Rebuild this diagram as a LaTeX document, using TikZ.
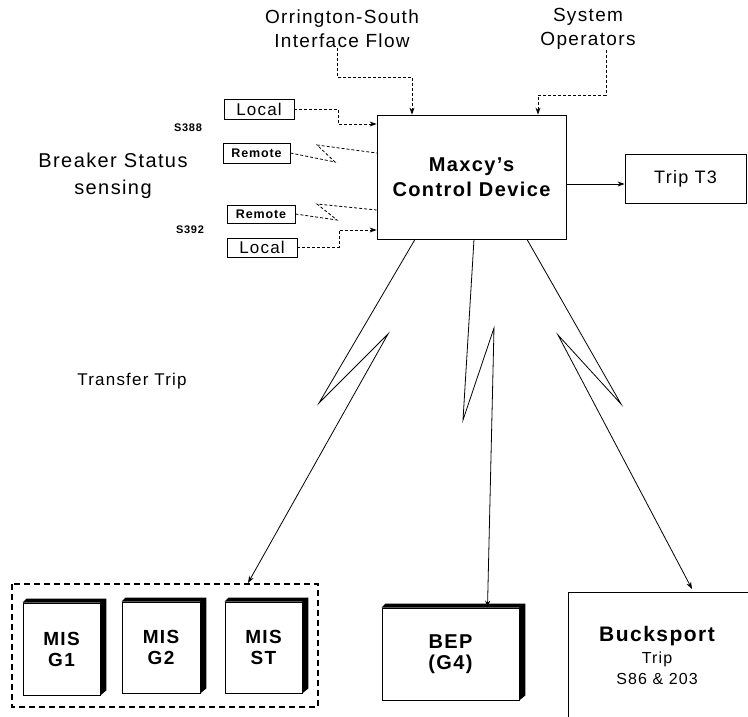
\documentclass[tikz,border=0pt]{standalone}
\usepackage{fontspec}
\setmainfont{Liberation Sans}[LetterSpace=7]
\usetikzlibrary{arrows.meta,calc}
\begin{document}
\begin{tikzpicture}[x=1pt,y=-1pt,
  ln/.style={line width=0.8pt},
  dsh/.style={line width=0.8pt,dash pattern=on 3pt off 2pt},
  arr/.style={-{Stealth[length=7pt,width=5pt]}},
  frame/.style={draw,line width=0.8pt,inner sep=0pt,align=center},
  lbl/.style={inner sep=0pt,align=center},
  solid3d/.style={draw,line width=0.8pt,fill=white,inner sep=0pt,align=center,font=\bfseries\fontsize{19}{21}\selectfont}]
\clip (0,0) rectangle (748,717);
\fill[white] (0,0) rectangle (748,717);

% top labels
\node[lbl,font=\fontsize{19}{24}\selectfont] (ors) at (342,29) {Orrington-South\\Interface Flow};
\node[lbl,font=\fontsize{19}{24}\selectfont] (sys) at (588,29) {System\\Operators};

% main device
\node[frame,minimum width=189pt,minimum height=124pt,font=\bfseries\fontsize{20}{25}\selectfont] (main) at (471.5,177) {Maxcy's\\Control Device};

% trip T3
\node[frame,minimum width=121pt,minimum height=49pt,font=\fontsize{18}{21}\selectfont] (t3) at (685.5,178.5) {Trip T3};
\draw[ln,arr] ([yshift=-7pt]main.east) -- ([yshift=-7pt]main.east -| t3.west);

% breaker status
\node[lbl,font=\fontsize{20}{27}\selectfont] (brk) at (113,176) {Breaker Status\\sensing};
\node[lbl,font=\bfseries\fontsize{11}{13}\selectfont] (s388) at (188,128) {S388};
\node[lbl,font=\bfseries\fontsize{11}{13}\selectfont] (s392) at (190,230) {S392};

\node[frame,minimum width=70pt,minimum height=20pt,font=\fontsize{17}{20}\selectfont] (loc1) at (259,109) {Local};
\node[frame,minimum width=67pt,minimum height=20pt,font=\bfseries\fontsize{12.5}{15}\selectfont] (rem1) at (256.5,153) {Remote};
\node[frame,minimum width=68pt,minimum height=18pt,font=\bfseries\fontsize{12.5}{15}\selectfont] (rem2) at (261,214) {Remote};
\node[frame,minimum width=70pt,minimum height=19pt,font=\fontsize{17}{20}\selectfont] (loc2) at (262,247.5) {Local};

% connectors into main (top)
\coordinate (o1) at (412,77);
\draw[dsh,arr] ([xshift=-5pt]ors.south) |- (o1) -- (o1 |- main.north);
\coordinate (s1) at (606,95);
\coordinate (s2) at (538,95);
\draw[dsh,arr] (sys.south -| s1) -- (s1) -- (s2) -- (s2 |- main.north);

% left side connectors
\coordinate (l1) at (338,124);
\draw[dsh,arr] (loc1.east) -| (l1) -- (l1 -| main.west);
\coordinate (r1a) at (335,162);
\coordinate (r1b) at (317,145);
\coordinate (r1c) at (377,153);
\draw[dsh] (rem1.east) -- (r1a) -- (r1b) -- (r1c -| main.west);
\coordinate (r2a) at (337,220);
\coordinate (r2b) at (317,204);
\coordinate (r2c) at (377,210);
\draw[dsh] (rem2.east) -- (r2a) -- (r2b) -- (r2c -| main.west);
\coordinate (l2) at (339,230);
\draw[dsh,arr] (loc2.east) -| (l2) -- (l2 -| main.west);

% transfer trip
\node[lbl,font=\fontsize{17}{20}\selectfont] (tt) at (132,381) {Transfer Trip};

% MIS group
\draw[line width=1.3pt,dash pattern=on 6pt off 4pt] (12,584) rectangle (318,707);
\node[solid3d,minimum width=77pt,minimum height=92pt] (g1) at (61.5,649) {MIS\\G1};
\node[solid3d,minimum width=78pt,minimum height=91pt] (g2) at (161,647.5) {MIS\\G2};
\node[solid3d,minimum width=77pt,minimum height=91pt] (st) at (263.5,647.5) {MIS\\ST};
\node[solid3d,minimum width=137pt,minimum height=92pt,font=\bfseries\fontsize{20}{21}\selectfont] (bep) at (450.5,654) {BEP\\(G4)};
\foreach \n in {g1,g2,st,bep}{
  \fill (\n.north west) -- ++(4,-4) -- ($(\n.north east)+(6,-4)$) -- ($(\n.south east)+(6,-5)$) -- (\n.south east) -- (\n.north east) -- cycle;
}

% Bucksport
\draw[ln] (568,725) -- (568,592) -- (760,592);
\node[lbl,font=\bfseries\fontsize{21}{24}\selectfont] (buck) at (657,636) {Bucksport};
\node[lbl,font=\fontsize{16}{20}\selectfont] (buck2) at (657,659) {Trip};
\node[lbl,font=\fontsize{16}{20}\selectfont] (buck3) at (657,679) {S86 \& 203};

% transfer trip radio links
\coordinate (a0) at (415,239);
\coordinate (a1) at (319,403);
\coordinate (a2) at (388,334);
\coordinate (a3) at (248,583);
\draw[ln,arr] (a0 |- main.south) -- (a1) -- (a2) -- (a3);
\coordinate (b0) at (474,239);
\coordinate (b1) at (463,420);
\coordinate (b2) at (494,328);
\draw[ln,arr] (b0 |- main.south) -- (b1) -- (b2) -- ([xshift=37pt]bep.north);
\coordinate (c0) at (527,239);
\coordinate (c1) at (621,404);
\coordinate (c2) at (558,335);
\coordinate (c3) at (692,589);
\draw[ln,arr] (c0 |- main.south) -- (c1) -- (c2) -- (c3);
\end{tikzpicture}
\end{document}
